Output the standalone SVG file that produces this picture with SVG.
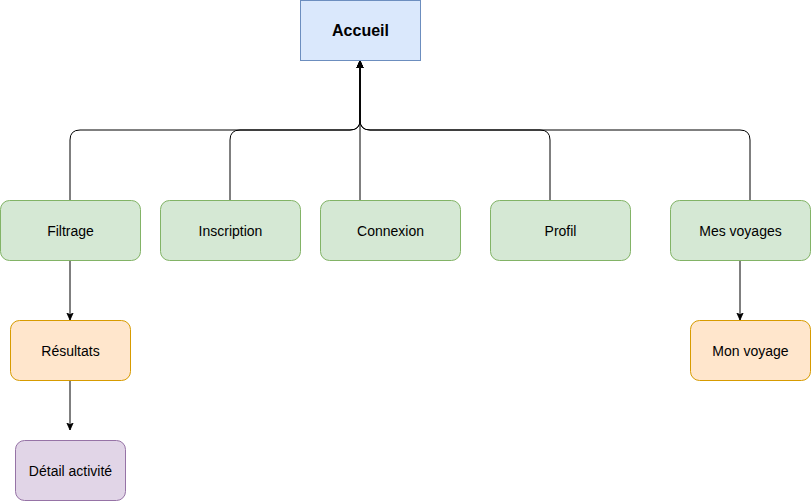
<svg xmlns="http://www.w3.org/2000/svg" width="811" height="501" viewBox="0 0 811 501">
<style>
.n{stroke-width:1}
.g{fill:#d5e8d4;stroke:#82b366}
.o{fill:#ffe6cc;stroke:#d79b00}
.p{fill:#e1d5e7;stroke:#9673a6}
.b{fill:#dae8fc;stroke:#6c8ebf}
text{font-family:"Liberation Sans",Arial,sans-serif;font-size:14px;fill:#000;text-anchor:middle;dominant-baseline:central}
.t{font-weight:bold;font-size:16px}
.c{fill:none;stroke:#000;stroke-width:1}
</style>
<defs>
<marker id="a" viewBox="0 0 10 10" refX="9" refY="5" markerWidth="8" markerHeight="8" markerUnits="userSpaceOnUse" orient="auto">
<path d="M0,1 L9,5 L0,9 L2.5,5 z" fill="#000" stroke="#000" stroke-width="1"/>
</marker>
</defs>
<rect width="811" height="501" fill="#fff"/>
<g id="connectors">
<path class="c" d="M70,200 L70,140 Q70,130 80,130 L350,130 Q360,130 360,120 L360,61" marker-end="url(#a)"/>
<path class="c" d="M230,200 L230,140 Q230,130 240,130 L350,130 Q360,130 360,120 L360,61" marker-end="url(#a)"/>
<path class="c" d="M360,200 L360,61" marker-end="url(#a)"/>
<path class="c" d="M550,200 L550,140 Q550,130 540,130 L370,130 Q360,130 360,120 L360,61" marker-end="url(#a)"/>
<path class="c" d="M750,200 L750,140 Q750,130 740,130 L370,130 Q360,130 360,120 L360,61" marker-end="url(#a)"/>
<path class="c" d="M70,260.5 L70,320" marker-end="url(#a)"/>
<path class="c" d="M70,380.5 L70,430" marker-end="url(#a)"/>
<path class="c" d="M740,260.5 L740,320" marker-end="url(#a)"/>
</g>
<g id="accueil"><rect class="b" x="300.5" y="0.5" width="120" height="60"/><text class="t" x="360.5" y="30.5">Accueil</text></g>
<g id="filtrage"><rect class="g" x="0.5" y="200.5" width="140" height="60" rx="9"/><text x="70.5" y="230.5">Filtrage</text></g>
<g id="inscription"><rect class="g" x="160.5" y="200.5" width="140" height="60" rx="9"/><text x="230.5" y="230.5">Inscription</text></g>
<g id="connexion"><rect class="g" x="320.5" y="200.5" width="140" height="60" rx="9"/><text x="390.5" y="230.5">Connexion</text></g>
<g id="profil"><rect class="g" x="490.5" y="200.5" width="140" height="60" rx="9"/><text x="560.5" y="230.5">Profil</text></g>
<g id="mesvoyages"><rect class="g" x="670.5" y="200.5" width="140" height="60" rx="9"/><text x="740.5" y="230.5">Mes voyages</text></g>
<g id="resultats"><rect class="o" x="10.5" y="320.5" width="120" height="60" rx="9"/><text x="70.5" y="350.5">Résultats</text></g>
<g id="detail"><rect class="p" x="15.5" y="440.5" width="110" height="60" rx="9"/><text x="70.5" y="470.5">Détail activité</text></g>
<g id="monvoyage"><rect class="o" x="690.5" y="320.5" width="120" height="60" rx="9"/><text x="750.5" y="350.5">Mon voyage</text></g>
</svg>
